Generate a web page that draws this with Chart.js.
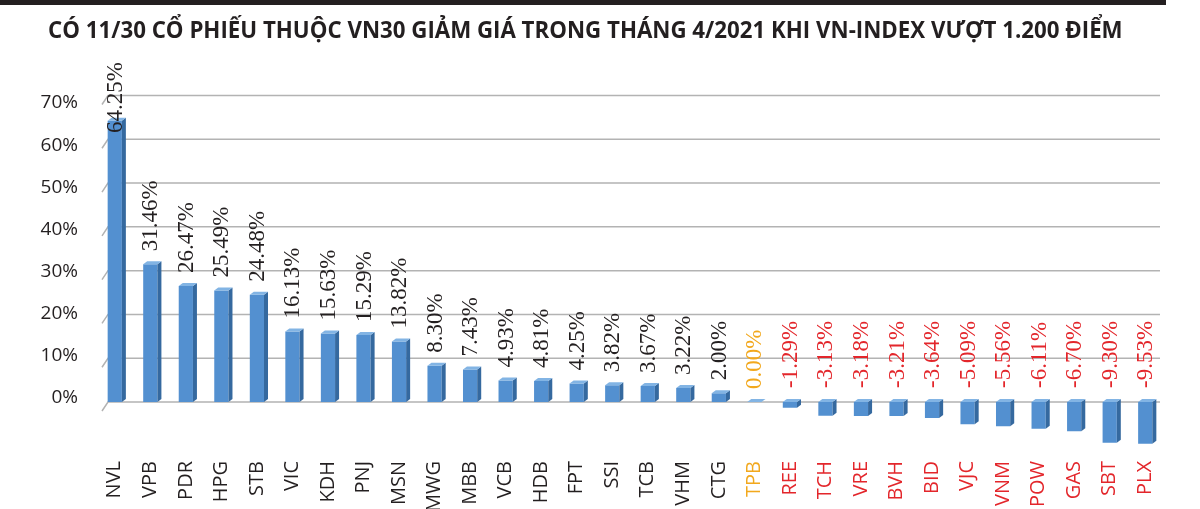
<!DOCTYPE html>
<html>
<head>
<meta charset="utf-8">
<script src="https://cdn.jsdelivr.net/npm/chart.js@4/dist/chart.umd.min.js"></script>
<style>
  html, body { margin: 0; padding: 0; background: #fff; }
  #wrap { position: relative; width: 1200px; height: 509px; overflow: hidden; }
  #topbar { position: absolute; left: 0; top: 0; width: 1166px; height: 5px; background: #231f20; }
  #title {
    position: absolute; left: 48px; top: 12px; white-space: nowrap;
    font-family: "Open Sans", sans-serif; font-weight: 700; font-size: 24px;
    color: #231f20; transform-origin: left top;
  }
  #chart { position: absolute; left: 0; top: 0; }
</style>
</head>
<body>
<div id="wrap">
  <canvas id="chart" width="1200" height="509"></canvas>
  <div id="topbar"></div>
  <div id="title">CÓ 11/30 CỔ PHIẾU THUỘC VN30 GIẢM GIÁ TRONG THÁNG 4/2021 KHI VN-INDEX VƯỢT 1.200 ĐIỂM</div>
</div>
<script>
const tickers = ["NVL", "VPB", "PDR", "HPG", "STB", "VIC", "KDH", "PNJ", "MSN", "MWG",
  "MBB", "VCB", "HDB", "FPT", "SSI", "TCB", "VHM", "CTG", "TPB", "REE",
  "TCH", "VRE", "BVH", "BID", "VJC", "VNM", "POW", "GAS", "SBT", "PLX"];
const changes = [64.25, 31.46, 26.47, 25.49, 24.48, 16.13, 15.63, 15.29, 13.82, 8.30,
  7.43, 4.93, 4.81, 4.25, 3.82, 3.67, 3.22, 2.00, 0.00, -1.29,
  -3.13, -3.18, -3.21, -3.64, -5.09, -5.56, -6.11, -6.70, -9.30, -9.53];
const yTicks = [0, 10, 20, 30, 40, 50, 60, 70];

const colorUp = "#231f20";
const colorFlat = "#f2a81d";
const colorDown = "#e3262b";
const textColor = v => v > 0 ? colorUp : (v === 0 ? colorFlat : colorDown);

// fit title to the width it takes in the picture
const t = document.getElementById("title");
t.style.transform = "scaleX(" + (1075 / t.offsetWidth) + ")";

const DX = 4, DY = 3;

// side and top faces so the columns look like the 3D ones
const threeD = {
  id: "threeD",
  afterDatasetsDraw(chart) {
    const ctx = chart.ctx;
    chart.getDatasetMeta(0).data.forEach(el => {
      const half = el.width / 2;
      const top = Math.min(el.y, el.base), bot = Math.max(el.y, el.base);
      const l = el.x - half, r = el.x + half;
      ctx.save();
      ctx.fillStyle = "#35699f";
      ctx.beginPath();
      ctx.moveTo(r, top); ctx.lineTo(r + DX, top - DY);
      ctx.lineTo(r + DX, bot - DY); ctx.lineTo(r, bot);
      ctx.closePath(); ctx.fill();
      ctx.fillStyle = "#82b4e4";
      ctx.beginPath();
      ctx.moveTo(l, top); ctx.lineTo(l + DX, top - DY);
      ctx.lineTo(r + DX, top - DY); ctx.lineTo(r, top);
      ctx.closePath(); ctx.fill();
      ctx.restore();
    });
  }
};

// gridlines on the back wall with the little slanted stub at the left
const wallGrid = {
  id: "wallGrid",
  beforeDatasetsDraw(chart) {
    const ctx = chart.ctx, y = chart.scales.y, a = chart.chartArea;
    ctx.save();
    ctx.strokeStyle = "#b3b3b3";
    ctx.lineWidth = 1.5;
    yTicks.forEach(v => {
      const py = y.getPixelForValue(v);
      ctx.beginPath();
      ctx.moveTo(a.left + 5, py + 9);
      ctx.lineTo(a.left + 11, py);
      ctx.lineTo(a.right - 3, py);
      ctx.stroke();
    });
    ctx.restore();
  }
};

const valueLabels = {
  id: "valueLabels",
  afterDraw(chart) {
    const ctx = chart.ctx;
    ctx.save();
    ctx.font = "23px 'Liberation Serif', 'Times New Roman', serif";
    ctx.textAlign = "left";
    ctx.textBaseline = "middle";
    chart.getDatasetMeta(0).data.forEach((el, i) => {
      const v = changes[i];
      const txt = v.toFixed(2) + "%";
      const w = ctx.measureText(txt).width;
      let anchor = v >= 0 ? el.y - DY - 10 : el.base - 14;
      anchor = Math.max(anchor, 62 + w);
      ctx.fillStyle = textColor(v);
      ctx.save();
      ctx.translate(el.x + 1, anchor);
      ctx.rotate(-Math.PI / 2);
      ctx.fillText(txt, 0, 0);
      ctx.restore();
    });
    ctx.restore();
  }
};

// slight left-to-right shading on the front face
function frontFill(ctx) {
  const el = ctx.element;
  if (!el || !isFinite(el.x)) return "#5390d0";
  const c = ctx.chart.ctx;
  const g = c.createLinearGradient(el.x - el.width / 2, 0, el.x + el.width / 2, 0);
  g.addColorStop(0, "#4a86c6");
  g.addColorStop(0.5, "#5d9bd9");
  g.addColorStop(1, "#4f8dcd");
  return g;
}

new Chart(document.getElementById("chart"), {
  type: "bar",
  data: {
    labels: tickers,
    datasets: [{
      data: changes,
      backgroundColor: frontFill,
      barPercentage: 0.8,
      categoryPercentage: 0.5
    }]
  },
  options: {
    responsive: false,
    animation: false,
    layout: { padding: { top: 95.5, right: 37, left: 0, bottom: 0 } },
    plugins: { legend: { display: false }, tooltip: { enabled: false } },
    scales: {
      x: {
        grid: { display: false, drawTicks: false },
        border: { display: false },
        afterFit: s => { s.height = 54; },
        ticks: {
          autoSkip: false,
          minRotation: 90,
          maxRotation: 90,
          padding: 6,
          font: { family: "'Open Sans', sans-serif", size: 20 },
          color: ctx => textColor(changes[ctx.index])
        }
      },
      y: {
        display: false,
        min: -12.1,
        max: 70
      },
      // labels sit a bit off the wall gridlines in the original 3D view
      yLabels: {
        position: "left",
        min: -13.53,
        max: 71.78,
        grid: { display: false },
        border: { display: false },
        afterFit: s => { s.width = 97; },
        afterBuildTicks: s => { s.ticks = yTicks.map(v => ({ value: v })); },
        ticks: {
          padding: 11,
          font: { family: "'Open Sans', sans-serif", size: 19 },
          color: "#231f20",
          callback: v => v + "%"
        }
      }
    }
  },
  plugins: [wallGrid, threeD, valueLabels]
});
</script>
</body>
</html>
